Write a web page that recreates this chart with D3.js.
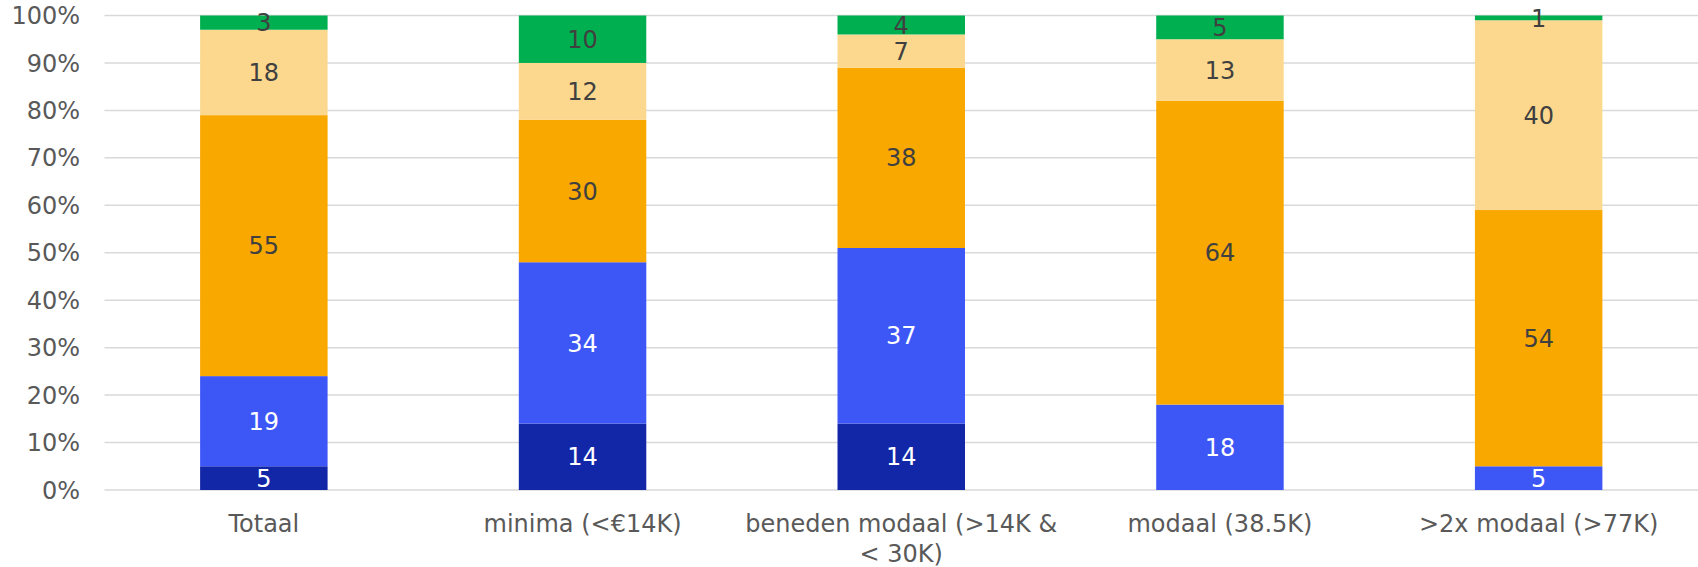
<!DOCTYPE html>
<html>
<head>
<meta charset="utf-8">
<style>
body { margin: 0; background: #fff; }
svg text { font-family: "DejaVu Sans", Verdana, sans-serif; }
</style>
</head>
<body>
<svg id="chart" width="1698" height="567"></svg>
<script src="https://d3js.org/d3.v7.min.js"></script>
<script>

var categories = ["Totaal", "minima (<€14K)", "beneden modaal (>14K &\n< 30K)", "modaal (38.5K)", ">2x modaal (>77K)"];
var seriesNames = ["s1", "s2", "s3", "s4", "s5"];
var s1 = [5, 14, 14, 0, 0];
var s2 = [19, 34, 37, 18, 5];
var s3 = [55, 30, 38, 64, 54];
var s4 = [18, 12, 7, 13, 40];
var s5 = [3, 10, 4, 5, 1];
var colors = ["#1226A8", "#3D57F7", "#F9A800", "#FCD88E", "#00B050"];
var labelColors = ["#ffffff", "#ffffff", "#404040", "#404040", "#404040"];
var yTicks = [0, 10, 20, 30, 40, 50, 60, 70, 80, 90, 100];

var rows = categories.map(function(c, i){
	return {cat: c, s1: s1[i], s2: s2[i], s3: s3[i], s4: s4[i], s5: s5[i]};
});

var svg = d3.select("#chart");
var plotL = 104.5, plotR = 1698, plotT = 15.5, plotB = 490;

var x = d3.scaleBand().domain(categories).range([plotL, plotR]).paddingInner(0.6).paddingOuter(0.3);
var y = d3.scaleLinear().domain([0, 100]).range([plotB, plotT]);

// grid
svg.append("g").selectAll("line")
	.data(yTicks).enter().append("line")
	.attr("x1", plotL).attr("x2", plotR)
	.attr("y1", function(d){ return y(d); })
	.attr("y2", function(d){ return y(d); })
	.attr("stroke", "#D9D9D9")
	.attr("stroke-width", 1.5);

svg.append("g").selectAll("text")
	.data(yTicks).enter().append("text")
	.attr("x", 80)
	.attr("y", function(d){ return y(d); })
	.attr("dy", "0.36em")
	.attr("text-anchor", "end")
	.attr("fill", "#595959")
	.style("font-size", "24px")
	.text(function(d){ return d + "%"; });

var stacked = d3.stack().keys(seriesNames)(rows);

var layers = svg.append("g").selectAll("g")
	.data(stacked).enter().append("g")
	.attr("fill", function(d, i){ return colors[i]; });

layers.selectAll("rect")
	.data(function(d){ return d; })
	.enter().append("rect")
	.attr("x", function(d){ return x(d.data.cat); })
	.attr("width", x.bandwidth())
	.attr("y", function(d){ return y(d[1]); })
	.attr("height", function(d){ return y(d[0]) - y(d[1]); });

stacked.forEach(function(layer, i){
	svg.append("g").selectAll("text")
		.data(layer.filter(function(d){ return d[1] - d[0] > 0; }))
		.enter().append("text")
		.attr("x", function(d){ return x(d.data.cat) + x.bandwidth() / 2; })
		.attr("y", function(d){ return y((d[0] + d[1]) / 2); })
		.attr("dy", "0.36em")
		.attr("text-anchor", "middle")
		.attr("fill", labelColors[i])
		.style("font-size", "24px")
		.text(function(d){ return d[1] - d[0]; });
});

// x labels
var xl = svg.append("g").selectAll("text")
	.data(categories).enter().append("text")
	.attr("x", function(d){ return x(d) + x.bandwidth() / 2; })
	.attr("y", 532)
	.attr("text-anchor", "middle")
	.attr("fill", "#595959")
	.style("font-size", "24px");

xl.each(function(d){
	var parts = d.split("\n");
	var t = d3.select(this);
	parts.forEach(function(p, k){
		t.append("tspan")
			.attr("x", t.attr("x"))
			.attr("dy", k == 0 ? 0 : 30)
			.text(p);
	});
});
</script>
</body>
</html>
